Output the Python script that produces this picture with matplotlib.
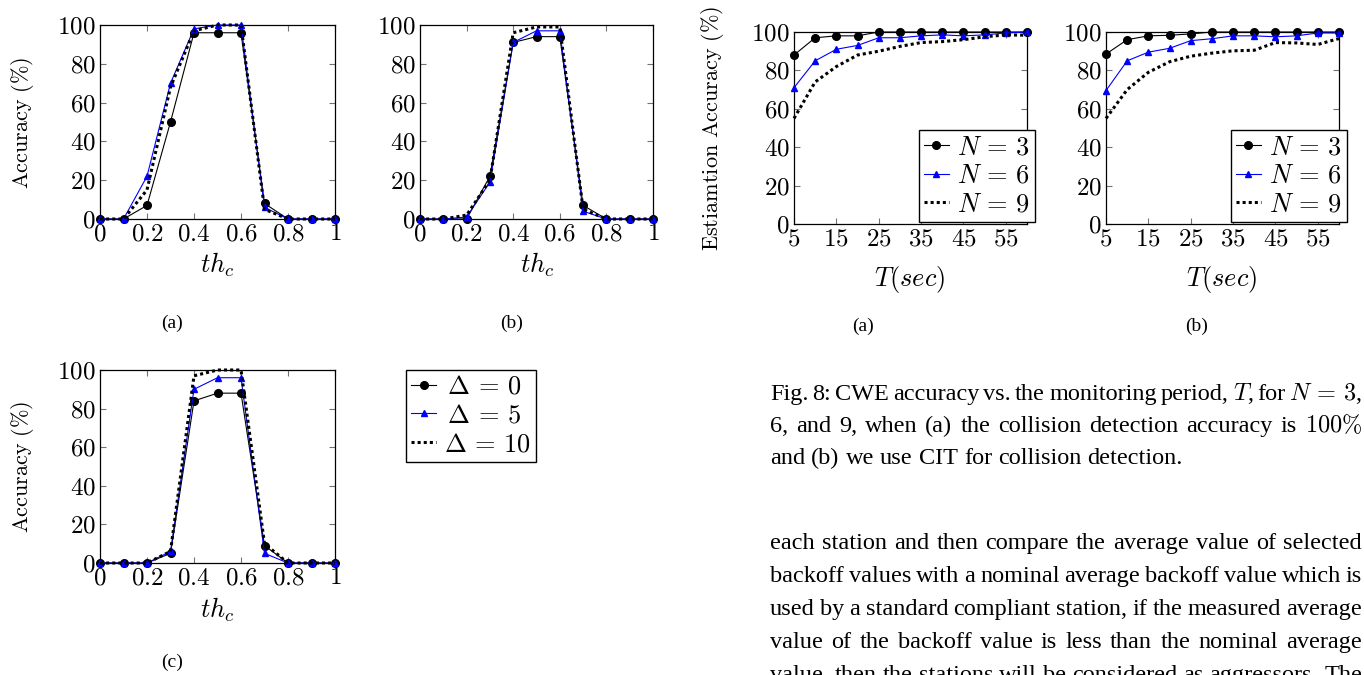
import numpy as np
import matplotlib
matplotlib.use('Agg')
import matplotlib.pyplot as plt
from matplotlib.ticker import FuncFormatter

plt.rcParams['mathtext.fontset'] = 'cm'
plt.rcParams['font.family'] = ['Liberation Serif', 'DejaVu Serif']

W, H = 1364, 675

# threshold sweep (left figures)
th_c = [0, 0.1, 0.2, 0.3, 0.4, 0.5, 0.6, 0.7, 0.8, 0.9, 1.0]
delta_labels = [r'$\,\Delta\,=\,0$', r'$\,\Delta\,=\,5$', r'$\Delta\,=\,10$']

acc_a_d0 = [0, 0, 7, 50, 96, 96, 96, 8, 0, 0, 0]
acc_a_d5 = [0, 0, 22, 70, 98, 100, 100, 6, 0, 0, 0]
acc_a_d10 = [0, 0, 15, 68, 97, 100, 100, 5, 0, 0, 0]

acc_b_d0 = [0, 0, 0, 22, 91, 94, 94, 7, 0, 0, 0]
acc_b_d5 = [0, 0, 1, 19, 91, 97, 97, 4, 0, 0, 0]
acc_b_d10 = [0, 0, 2, 20, 96, 99, 99, 5, 0, 0, 0]

acc_c_d0 = [0, 0, 0, 5, 84, 88, 88, 9, 0, 0, 0]
acc_c_d5 = [0, 0, 0, 6, 90, 96, 96, 5, 0, 0, 0]
acc_c_d10 = [0, 0, 0, 6, 97, 100, 100, 10, 0, 0, 0]

# monitoring period (right figures)
T_sec = [5, 10, 15, 20, 25, 30, 35, 40, 45, 50, 55, 60]
n_labels = [r'$N\,=\,3$', r'$N\,=\,6$', r'$N\,=\,9$']

cwe_a_n3 = [88, 97, 98, 98, 100, 100, 100, 100, 100, 100, 100, 100]
cwe_a_n6 = [71, 85, 91, 93, 97, 97, 98, 98.5, 98, 98.5, 99.5, 100]
cwe_a_n9 = [55, 74, 82, 88, 90, 92.5, 94.5, 95, 96, 97.5, 98.5, 98.3]

cwe_b_n3 = [88.5, 96, 98, 98.3, 99, 100, 100, 100, 100, 100, 100, 100]
cwe_b_n6 = [69.5, 85, 89.5, 91.5, 95.5, 96.5, 98, 98, 97.5, 98, 99.5, 99.5]
cwe_b_n9 = [55, 70, 79, 84.5, 87.4, 89, 90.2, 90.5, 94.5, 94.3, 93.5, 96.6]

caption = [
    r'Fig. 8: CWE accuracy vs. the monitoring period, $T$, for $N\,=\,3$,',
    r'6, and 9, when (a) the collision detection accuracy is $100\%$',
    'and (b) we use CIT for collision detection.',
]
body = [
    'each station and then compare the average value of selected',
    'backoff values with a nominal average backoff value which is',
    'used by a standard compliant station, if the measured average',
    'value of the backoff value is less than the nominal average',
    'value, then the stations will be considered as aggressors. The',
]

TICK_FS = 18
YLAB_FS = 16
LEG_FS = 19
TXT_FS = 17.5


def rect(x0, y0, x1, y1):
    return [x0 / W, 1 - y1 / H, (x1 - x0) / W, (y1 - y0) / H]


def fx(x):
    return x / W


def fy(y):
    return 1 - y / H


mathfmt = FuncFormatter(lambda v, p: f'${v:g}$')


def style_axis(ax, xlim, xticks):
    ax.set_xlim(*xlim)
    ax.set_ylim(0, 100)
    ax.set_xticks(xticks)
    ax.set_yticks([0, 20, 40, 60, 80, 100])
    ax.xaxis.set_major_formatter(mathfmt)
    ax.yaxis.set_major_formatter(mathfmt)
    ax.tick_params(direction='in', top=True, right=True, length=4,
                   width=0.8, color='0.45', labelsize=TICK_FS, pad=3)
    for s in ax.spines.values():
        s.set_linewidth(0.9)
        s.set_color('black')


def draw_series(ax, x, s0, s1, s2):
    ax.plot(x, s0, color='black', lw=0.8, marker='o', ms=5.5,
            clip_on=False, zorder=3)
    ax.plot(x, s1, color='blue', lw=0.8, marker='^', ms=5,
            clip_on=False, zorder=4)
    ax.plot(x, s2, color='black', lw=2.2, ls=(0, (1.0, 1.0)),
            clip_on=False, zorder=5)


leg_kw = dict(fontsize=LEG_FS, frameon=True, fancybox=False,
              edgecolor='black', framealpha=1, numpoints=1,
              handlelength=0.95, handletextpad=0.3, labelspacing=0.2,
              borderpad=0.2, borderaxespad=0)

fig = plt.figure(figsize=(W / 100, H / 100), dpi=100)

# left: accuracy vs th_c
left_axes = []
for r, data in [((100, 25, 335, 219), (acc_a_d0, acc_a_d5, acc_a_d10)),
                ((420, 25, 653, 219), (acc_b_d0, acc_b_d5, acc_b_d10)),
                ((100, 370, 335, 563), (acc_c_d0, acc_c_d5, acc_c_d10))]:
    ax = fig.add_axes(rect(*r))
    draw_series(ax, th_c, *data)
    style_axis(ax, (0, 1), [0, 0.2, 0.4, 0.6, 0.8, 1.0])
    left_axes.append(ax)

fig.legend(left_axes[2].get_lines(), delta_labels, loc='upper left',
           bbox_to_anchor=(fx(406), fy(370)), **leg_kw)

# right: estimation accuracy vs T
right_axes = []
for r, data, lx in [((794, 32, 1027, 224), (cwe_a_n3, cwe_a_n6, cwe_a_n9), 1035),
                    ((1106, 32, 1339, 224), (cwe_b_n3, cwe_b_n6, cwe_b_n9), 1347)]:
    ax = fig.add_axes(rect(*r))
    draw_series(ax, T_sec, *data)
    style_axis(ax, (5, 60), [5, 15, 25, 35, 45, 55])
    fig.legend(ax.get_lines(), n_labels, loc='lower right',
               bbox_to_anchor=(fx(lx), fy(222)), **leg_kw).set_zorder(10)
    right_axes.append(ax)

# axis labels
for yc in (123, 467):
    fig.text(fx(22), fy(yc), r'$\mathrm{Accuracy\ (\%)}$', rotation=90,
             ha='center', va='center', fontsize=YLAB_FS)
fig.text(fx(712), fy(128), r'$\mathrm{Estiamtion\ Accuracy\ (\%)}$',
         rotation=90, ha='center', va='center', fontsize=YLAB_FS)

for xc, yc in [(217, 265), (537, 265), (217, 610)]:
    fig.text(fx(xc), fy(yc), r'$th_c$', ha='center', va='center',
             fontsize=19)
for xc in (910, 1222):
    fig.text(fx(xc), fy(280), r'$T(sec)$', ha='center', va='center',
             fontsize=19)

for xc, yc, s in [(172, 323, '(a)'), (512, 323, '(b)'), (172, 662, '(c)'),
                  (863, 326, '(a)'), (1197, 326, '(b)')]:
    fig.text(fx(xc), fy(yc), s, ha='center', va='center', fontsize=14)

# caption and body text, justified between x0 and x1
renderer = fig.canvas.get_renderer()


def draw_line(line, y, justify=True, x0=770, x1=1362, size=TXT_FS):
    words = line.split(' ')
    texts = [fig.text(0, 0, w, fontsize=size, va='baseline', ha='left')
             for w in words]
    widths = [t.get_window_extent(renderer).width for t in texts]
    if justify and len(words) > 1:
        gap = (x1 - x0 - sum(widths)) / (len(words) - 1)
    else:
        gap = size * 100 / 72 * 0.25
    x = x0
    for t, w in zip(texts, widths):
        t.set_position((fx(x), fy(y)))
        x += w + gap


for i, line in enumerate(caption):
    draw_line(line, 400 + 32 * i, justify=(i < len(caption) - 1))
for i, line in enumerate(body):
    draw_line(line, 549 + 33 * i)

fig.savefig('out.png', dpi=100)
